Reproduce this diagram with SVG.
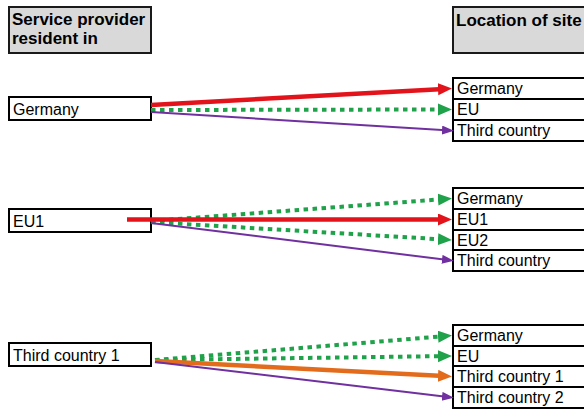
<svg xmlns="http://www.w3.org/2000/svg" width="584" height="412" viewBox="0 0 584 412">
  <style>
    text { font-family: "Liberation Sans", Arial, sans-serif; font-size: 16px; fill: #000; }
    .hdr { fill: #d9d9d9; stroke: #1a1a1a; stroke-width: 2; }
    .hdr-t { font-weight: bold; font-size: 17px; }
    .box { fill: #fff; stroke: #000; stroke-width: 2; }
    .red { stroke: #e3131b; stroke-width: 4.5; fill: none; }
    .grn { stroke: #1fa24a; stroke-width: 4; stroke-dasharray: 4.5 4.5; fill: none; }
    .org { stroke: #e36c1c; stroke-width: 4.5; fill: none; }
    .pur { stroke: #7030a0; stroke-width: 2; fill: none; }
  </style>
  <defs>
    <marker id="ah-red" markerUnits="userSpaceOnUse" markerWidth="16" markerHeight="14" refX="6" refY="6" orient="auto">
      <path d="M0,0 L14,6 L0,12 z" fill="#e3131b"/>
    </marker>
    <marker id="ah-grn" markerUnits="userSpaceOnUse" markerWidth="16" markerHeight="14" refX="6" refY="6" orient="auto">
      <path d="M0,0 L14,6 L0,12 z" fill="#1fa24a"/>
    </marker>
    <marker id="ah-org" markerUnits="userSpaceOnUse" markerWidth="16" markerHeight="14" refX="6" refY="6" orient="auto">
      <path d="M0,0 L14,6 L0,12 z" fill="#e36c1c"/>
    </marker>
    <marker id="ah-pur" markerUnits="userSpaceOnUse" markerWidth="14" markerHeight="12" refX="4" refY="4.5" orient="auto">
      <path d="M0,0 L12,4.5 L0,9 z" fill="#7030a0"/>
    </marker>
  </defs>

  <!-- column headers -->
  <g id="hdr-provider">
    <rect class="hdr" x="9" y="7" width="142" height="46"/>
    <text class="hdr-t" x="12" y="25">Service provider</text>
    <text class="hdr-t" x="12" y="44">resident in</text>
  </g>
  <g id="hdr-site">
    <rect class="hdr" x="453" y="7" width="160" height="46"/>
    <text class="hdr-t" x="456" y="26">Location of site</text>
  </g>

  <!-- provider nodes -->
  <g id="src-germany">
    <rect class="box" x="9" y="97" width="142" height="23"/>
    <text x="13" y="115">Germany</text>
  </g>
  <g id="src-eu1">
    <rect class="box" x="9" y="209" width="142" height="23"/>
    <text x="13" y="227">EU1</text>
  </g>
  <g id="src-third1">
    <rect class="box" x="9" y="343" width="142" height="23"/>
    <text x="13" y="361">Third country 1</text>
  </g>

  <!-- site nodes: group 1 -->
  <g id="site1-germany">
    <rect class="box" x="453" y="78" width="160" height="21"/>
    <text x="457" y="94">Germany</text>
  </g>
  <g id="site1-eu">
    <rect class="box" x="453" y="99" width="160" height="21"/>
    <text x="457" y="115">EU</text>
  </g>
  <g id="site1-third">
    <rect class="box" x="453" y="120" width="160" height="21"/>
    <text x="457" y="136">Third country</text>
  </g>

  <!-- site nodes: group 2 -->
  <g id="site2-germany">
    <rect class="box" x="453" y="188" width="160" height="21"/>
    <text x="457" y="204">Germany</text>
  </g>
  <g id="site2-eu1">
    <rect class="box" x="453" y="209" width="160" height="21"/>
    <text x="457" y="225">EU1</text>
  </g>
  <g id="site2-eu2">
    <rect class="box" x="453" y="230" width="160" height="20"/>
    <text x="457" y="246">EU2</text>
  </g>
  <g id="site2-third">
    <rect class="box" x="453" y="250" width="160" height="21"/>
    <text x="457" y="266">Third country</text>
  </g>

  <!-- site nodes: group 3 -->
  <g id="site3-germany">
    <rect class="box" x="453" y="325" width="160" height="21"/>
    <text x="457" y="341">Germany</text>
  </g>
  <g id="site3-eu">
    <rect class="box" x="453" y="346" width="160" height="20"/>
    <text x="457" y="362">EU</text>
  </g>
  <g id="site3-third1">
    <rect class="box" x="453" y="366" width="160" height="21"/>
    <text x="457" y="382">Third country 1</text>
  </g>
  <g id="site3-third2">
    <rect class="box" x="453" y="387" width="160" height="21"/>
    <text x="457" y="403">Third country 2</text>
  </g>

  <!-- connectors (drawn on top, the EU1 red line starts inside its box) -->
  <g id="connectors">
    <!-- from Germany -->
    <path class="red" d="M151,105 L444,88.9" marker-end="url(#ah-red)"/>
    <path class="grn" d="M151,110 L444,109.5" marker-end="url(#ah-grn)"/>
    <path class="pur" d="M151,112 L446,130.3" marker-end="url(#ah-pur)"/>
    <!-- from EU1 -->
    <path class="grn" d="M151,221 L444,199.1" marker-end="url(#ah-grn)"/>
    <path class="grn" d="M151,222 L444,239.5" marker-end="url(#ah-grn)"/>
    <path class="pur" d="M151,223 L446,259.8" marker-end="url(#ah-pur)"/>
    <path class="red" d="M127,219.5 L444,219.5" marker-end="url(#ah-red)"/>
    <!-- from Third country 1 -->
    <path class="grn" d="M155,360 L444,336.2" marker-end="url(#ah-grn)"/>
    <path class="grn" d="M155,360 L444,356.1" marker-end="url(#ah-grn)"/>
    <path class="org" d="M155,361 L444,376.1" marker-end="url(#ah-org)"/>
    <path class="pur" d="M155,362 L446,396.8" marker-end="url(#ah-pur)"/>
  </g>
</svg>
